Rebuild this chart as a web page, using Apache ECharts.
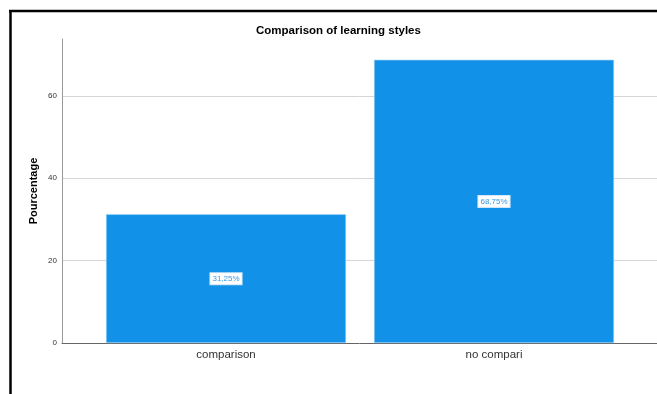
<!DOCTYPE html>
<html>
<head>
<meta charset="utf-8">
<script src="https://cdn.jsdelivr.net/npm/echarts@6/dist/echarts.min.js"></script>
<style>
html,body{margin:0;padding:0;background:#fff;}
#c{width:657px;height:394px;}
</style>
</head>
<body>
<div id="c"></div>
<script>
const categories = ['comparison', 'no compari'];
const percentages = [31.25, 68.75];
const yTicks = [0, 20, 40, 60];
const yMax = 73.8;

const chart = echarts.init(document.getElementById('c'), null, {renderer: 'canvas'});

// layout: plot spans x 62..657; bar centres at 226 and 494 (268 px apart)
const catPx = 268, leftPx = 62, plotW = 595, firstCentre = 226;
const xMin = 1 - (firstCentre - leftPx) / catPx;
const xMax = xMin + plotW / catPx;

const fmt = v => v.toFixed(2).replace('.', ',') + '%';

chart.setOption({
  animation: false,
  backgroundColor: '#ffffff',
  title: {
    text: 'Comparison of learning styles',
    left: 251, top: 20,
    textStyle: {fontFamily: 'Liberation Sans', fontSize: 11.5, fontWeight: 'bold', color: '#000'}
  },
  grid: {left: 62, top: 39, right: 0, bottom: 51, containLabel: false},
  xAxis: {
    type: 'value', min: xMin, max: xMax,
    axisLine: {show: true, onZero: false, lineStyle: {color: '#666', width: 1}},
    axisTick: {show: false},
    splitLine: {show: false},
    axisLabel: {
      customValues: categories.map((c, i) => i + 1),
      formatter: v => categories[Math.round(v) - 1] || '',
      fontFamily: 'Liberation Sans', fontSize: 11.5, color: '#333', margin: 6
    }
  },
  yAxis: {
    type: 'value', min: 0, max: yMax, interval: 20,
    name: 'Pourcentage', nameLocation: 'middle', nameGap: 23, nameMoveOverlap: false,
    nameTextStyle: {fontFamily: 'Liberation Sans', fontSize: 11, fontWeight: 'bold', color: '#000'},
    axisLine: {show: true, lineStyle: {color: '#999', width: 1}},
    axisTick: {show: false},
    axisLabel: {
      customValues: yTicks,
      fontFamily: 'Liberation Sans', fontSize: 8, color: '#333', margin: 5
    },
    splitLine: {show: true, lineStyle: {color: '#d6d6d6', width: 1}, showMaxLine: false, showMinLine: false}
  },
  series: [{
    type: 'bar',
    barWidth: 240,
    data: percentages.map((v, i) => [i + 1, v]),
    itemStyle: {color: '#1192e8', borderColor: '#9fd1f5', borderWidth: 0.6},
    label: {
      show: true, position: 'inside',
      formatter: p => fmt(p.value[1]),
      fontFamily: 'Liberation Sans', fontSize: 8, color: '#3a9be6',
      backgroundColor: '#ffffff', borderColor: '#cfe6f8', borderWidth: 1,
      padding: [2, 2, 1, 2]
    }
  }],
  graphic: [
    {type: 'line', shape: {x1: 9, y1: 11, x2: 657, y2: 11}, style: {stroke: '#000', lineWidth: 2.5}, z: 100},
    {type: 'line', shape: {x1: 10.5, y1: 10, x2: 10.5, y2: 394}, style: {stroke: '#000', lineWidth: 2.5}, z: 100}
  ]
});
</script>
</body>
</html>
